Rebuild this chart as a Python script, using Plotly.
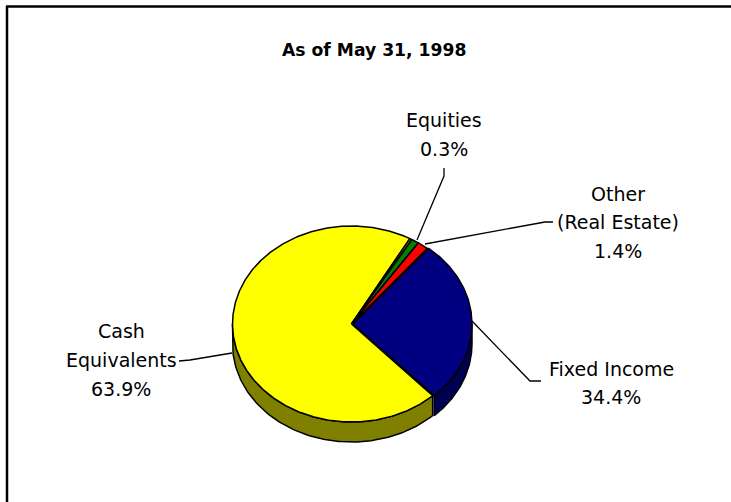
import numpy as np
import plotly.graph_objects as go

# Labels as printed on the chart
categories = ["Cash Equivalents", "Equities", "Other (Real Estate)", "Fixed Income"]
printed_percent = ["63.9%", "0.3%", "1.4%", "34.4%"]

# Shares of the circle as actually drawn in the picture, clockwise from the yellow slice's lower edge
slice_names = ["Cash Equivalents", "Sliver", "Equities", "Other (Real Estate)", "Fixed Income"]
drawn_share = [70.1, 0.33, 1.0, 1.5, 27.07]
top_colors = ["#FFFF00", "#808000", "#008000", "#FF0000", "#000080"]
side_colors = ["#808000", "#404000", "#004000", "#800000", "#000050"]
slice_shift = [0.0, 0.0, 0.0, 0.0, 1.5]
start_angle = 137.0

CX, CY, RX, RY, DEPTH = 351.5, 324.0, 119.0, 98.0, 20.0
FONT = "DejaVu Sans"
TEXT = "#000000"

fig = go.Figure()


def point(a, dx=0.0, dy=0.0):
    t = np.radians(a)
    return CX + dx + RX * np.sin(t), CY + dy - RY * np.cos(t)


angles = []
a0 = start_angle
for share in drawn_share:
    a1 = a0 + share * 3.6
    angles.append((a0, a1))
    a0 = a1

# side walls (only the front half of the disc is visible)
for (a0, a1), col, dx in zip(angles, side_colors, slice_shift):
    for turn in (0, 360):
        lo, hi = max(a0, 90 + turn), min(a1, 270 + turn)
        if hi <= lo:
            continue
        th = np.linspace(lo, hi, 120)
        x1, y1 = point(th, dx)
        x2, y2 = point(th[::-1], dx, DEPTH)
        fig.add_trace(go.Scatter(x=np.r_[x1, x2, x1[0]], y=np.r_[y1, y2, y1[0]], mode="lines",
                                 fill="toself", fillcolor=col, line=dict(color="#000000", width=1.5),
                                 hoverinfo="skip", showlegend=False))

# top faces
for (a0, a1), col, dx, name in zip(angles, top_colors, slice_shift, slice_names):
    th = np.linspace(a0, a1, max(int(a1 - a0) * 2, 4))
    x, y = point(th, dx)
    fig.add_trace(go.Scatter(x=np.r_[CX + dx, x, CX + dx], y=np.r_[CY, y, CY], mode="lines",
                             fill="toself", fillcolor=col, line=dict(color="#000000", width=1.5),
                             name=name, showlegend=False))

# leader lines
leader_x = [[444, 444, 417], [553, 545, 425], [179, 190, 232], [541, 530, 472]]
leader_y = [[168, 176, 240], [222, 222, 244], [361, 360, 353], [381, 381, 321]]
for lx, ly in zip(leader_x, leader_y):
    fig.add_trace(go.Scatter(x=lx, y=ly, mode="lines", line=dict(color="#000000", width=1.3),
                             hoverinfo="skip", showlegend=False))

# text lines
label_lines = ["Equities", printed_percent[1], "Other", "(Real Estate)", printed_percent[2],
               "Cash", "Equivalents", printed_percent[0], "Fixed Income", printed_percent[3]]
label_x = [444, 444, 618, 618, 618, 121, 121, 121, 611, 611]
label_y = [120, 149, 194, 222, 251, 331, 360, 389, 369, 397]
for t, x, y in zip(label_lines, label_x, label_y):
    fig.add_annotation(x=x, y=y, text=t, showarrow=False, xanchor="center", yanchor="middle",
                       font=dict(family=FONT, size=19, color=TEXT))
fig.add_annotation(x=373.5, y=50, text="<b>As of May 31, 1998</b>", showarrow=False,
                   xanchor="center", yanchor="middle", font=dict(family=FONT, size=17.2, color=TEXT))

# frame: left and top edges only
fig.add_shape(type="line", x0=7, x1=7, y0=6, y1=502, line=dict(color="#000000", width=2.5))
fig.add_shape(type="line", x0=6, x1=731, y0=6.5, y1=6.5, line=dict(color="#000000", width=2.5))

fig.update_layout(width=731, height=502, margin=dict(l=0, r=0, t=0, b=0),
                  paper_bgcolor="#FFFFFF", plot_bgcolor="#FFFFFF", showlegend=False,
                  xaxis=dict(range=[0, 731], visible=False, fixedrange=True),
                  yaxis=dict(range=[502, 0], visible=False, fixedrange=True))
fig.write_html("out.html", config=dict(displayModeBar=False),
               post_script="document.body.style.margin='0';document.body.style.overflow='hidden';")
